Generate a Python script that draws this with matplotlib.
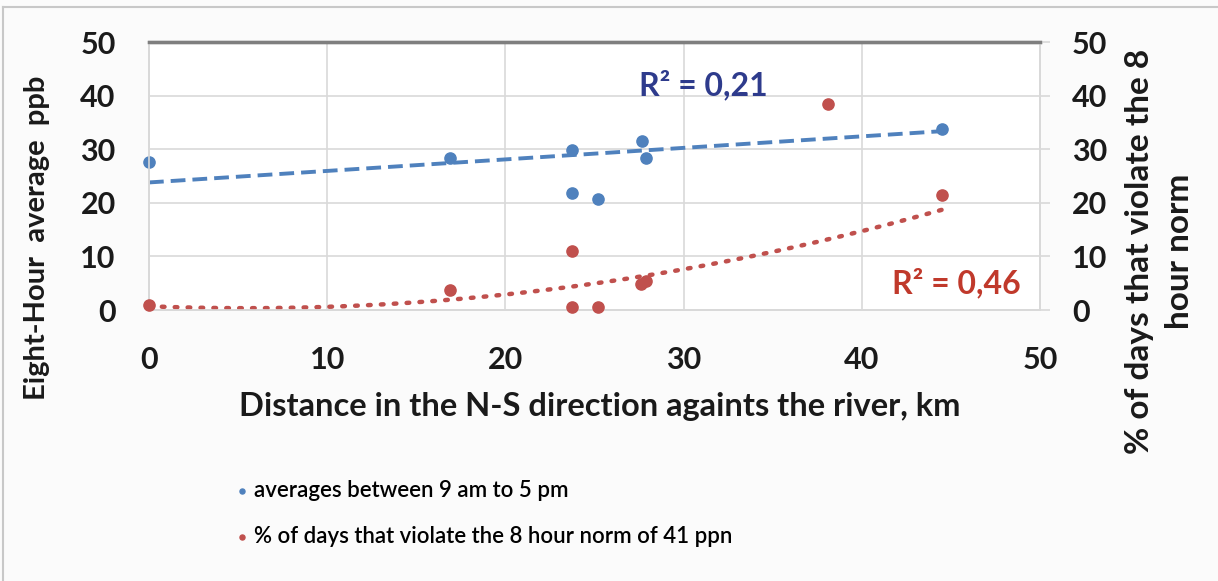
import matplotlib
matplotlib.use("Agg")
import matplotlib.pyplot as plt
from matplotlib.lines import Line2D
import numpy as np

plt.rcParams['font.family'] = ['Lato', 'DejaVu Sans']

# averages between 9 am and 5 pm (left axis, ppb)
avg_x = [0, 16.9, 23.75, 23.75, 25.2, 27.65, 27.9, 44.5]
avg_y = [27.7, 28.4, 29.8, 21.8, 20.8, 31.6, 28.3, 33.8]

# % of days that violate the 8 hour norm (right axis)
viol_x = [0, 16.9, 23.75, 23.75, 25.2, 27.6, 27.9, 38.1, 44.5]
viol_y = [1.0, 3.8, 11.0, 0.5, 0.5, 4.8, 5.5, 38.4, 21.5]

# trendlines (intercept, slope, quadratic)
avg_trend = [23.8, 0.215]
viol_trend = [0.7, -0.131, 0.01204]
trend_range = [0, 44.5]

blue = '#4F81BD'
red = '#C0504D'
grid_c = '#d9d9d9'
txt_c = '#1a1a1a'

fig = plt.figure(figsize=(12.18, 5.81), dpi=100)
fig.patch.set_facecolor('#fbfbfb')
# thin frame of the original screenshot
fig.add_artist(Line2D([3 / 1218, 3 / 1218], [0, 1 - 7 / 581], transform=fig.transFigure,
                      color='#c8c8c8', lw=1.5))
fig.add_artist(Line2D([3 / 1218, 1], [1 - 7 / 581, 1 - 7 / 581], transform=fig.transFigure,
                      color='#c8c8c8', lw=1.5))

ax = fig.add_axes([0.1223, 0.4664, 0.7317, 0.4613])
ax2 = ax.twinx()

tx = np.linspace(trend_range[0], trend_range[1], 200)
ax.plot(tx, avg_trend[0] + avg_trend[1] * tx, color=blue, lw=2.8, ls=(0, (3.8, 1.8)), zorder=2)
ax2.plot(tx, viol_trend[0] + viol_trend[1] * tx + viol_trend[2] * tx ** 2,
         color=red, lw=3.2, ls=(0, (0.6, 2.3)), dash_capstyle='round', zorder=2)

sc1 = ax.scatter(avg_x, avg_y, s=65, color=blue, zorder=3, clip_on=False,
                 label='averages between 9 am to 5 pm')
sc2 = ax2.scatter(viol_x, viol_y, s=65, color=red, zorder=3, clip_on=False,
                  label='% of days that violate the 8 hour norm of 41 ppn')

for a in (ax, ax2):
    a.set_xlim(0, 50)
    a.set_ylim(0, 50)
    a.set_yticks(range(0, 51, 10))
    for s in a.spines.values():
        s.set_color(grid_c)
        s.set_linewidth(1.2)
    a.spines['top'].set_color('#7f7f7f')
    a.spines['top'].set_linewidth(2.4)

ax.set_xticks(range(0, 51, 10))
ax.grid(True, color=grid_c, lw=1.2)
ax.set_axisbelow(True)
ax.tick_params(axis='x', length=0, pad=26, labelsize=22)
ax.tick_params(axis='y', length=0, pad=24, labelsize=22)
ax2.tick_params(axis='y', length=7, width=1.2, color=grid_c, pad=16, labelsize=22)
for lab in ax.get_xticklabels() + ax.get_yticklabels() + ax2.get_yticklabels():
    lab.set_fontweight('bold')
    lab.set_color(txt_c)

ax.set_xlabel('Distance in the N-S direction againts the river, km',
              fontsize=23.5, fontweight='bold', color=txt_c)
ax.xaxis.set_label_coords(0.506, -0.305)
ax.set_ylabel('Eight-Hour  average  ppb', fontsize=21, fontweight='bold', color=txt_c)
ax.yaxis.set_label_coords(-0.111, 0.27)
ax2.set_ylabel('% of days that violate the 8\nhour norm', fontsize=24,
               fontweight='bold', color=txt_c, linespacing=1.45)
ax2.yaxis.set_label_coords(1.095, 0.22)

ax.text(27.5, 41.9, 'R² = 0,21', color='#2E3B8C', fontsize=23, fontweight='bold', va='center')
ax.text(41.7, 5.0, 'R² = 0,46', color='#C0392B', fontsize=23, fontweight='bold', va='center')

fig.legend(handles=[sc1, sc2], loc='upper left', bbox_to_anchor=(0.1784, 0.209),
           frameon=False, prop={'size': 16, 'weight': 'semibold'}, markerscale=0.45,
           handlelength=0.4, handletextpad=0.34, labelspacing=1.15)

fig.savefig('out.png', dpi=100, facecolor=fig.get_facecolor())
